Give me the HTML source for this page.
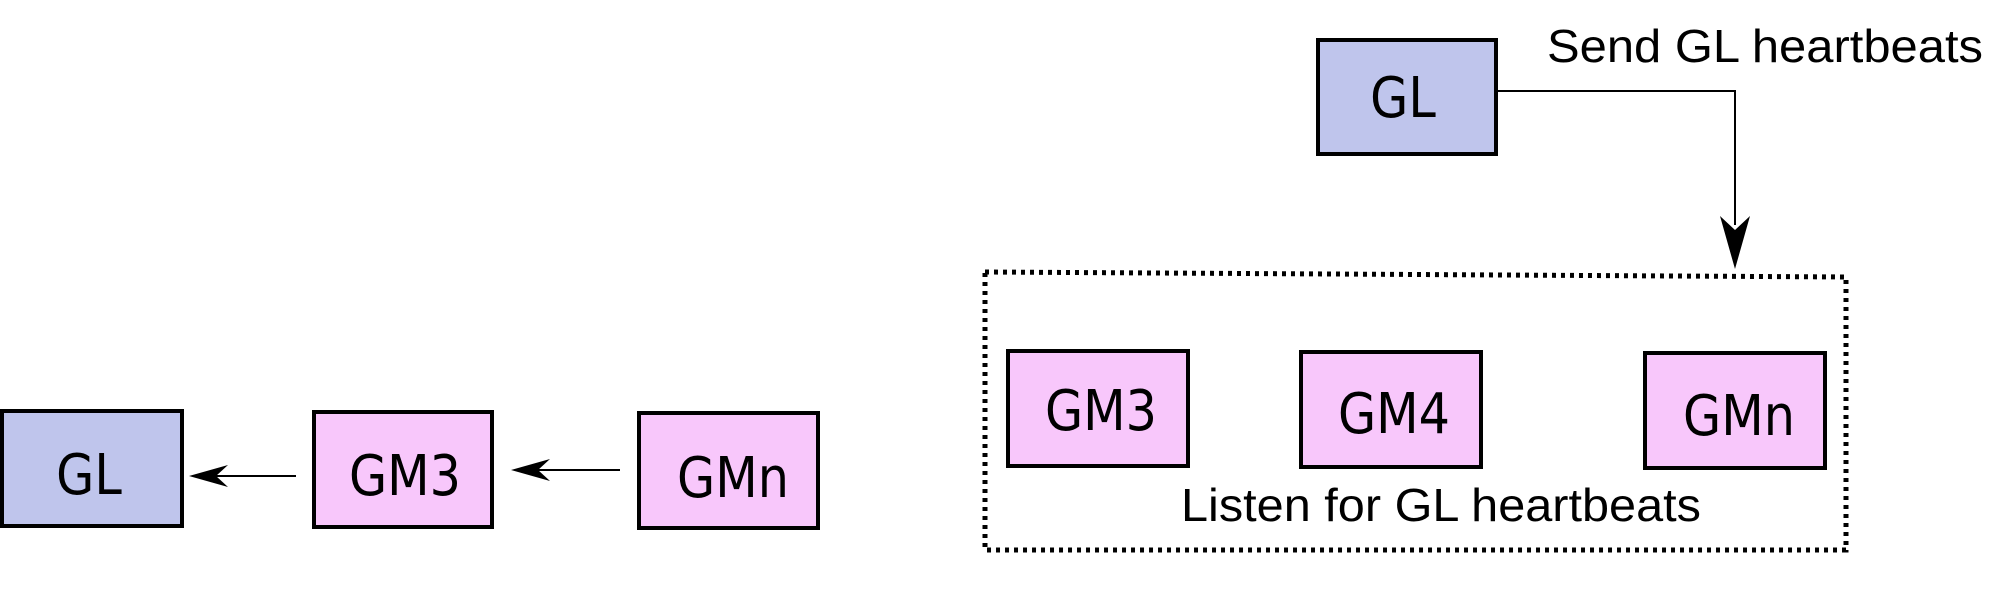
<!DOCTYPE html>
<html><head><meta charset="utf-8"><style>
html,body{margin:0;padding:0;background:#fff;}
svg{display:block;}
</style></head><body>
<svg width="2000" height="597" viewBox="0 0 2000 597" xmlns="http://www.w3.org/2000/svg">
<g stroke="#000" stroke-width="4">
<rect x="2" y="411" width="180" height="115" fill="#bfc5ec"/>
<rect x="314" y="412" width="178" height="115" fill="#f8c7fb"/>
<rect x="639" y="413" width="179" height="115" fill="#f8c7fb"/>
<rect x="1318" y="40" width="178" height="114" fill="#bfc5ec"/>
<rect x="1008" y="351" width="180" height="115" fill="#f8c7fb"/>
<rect x="1301" y="352" width="180" height="115" fill="#f8c7fb"/>
<rect x="1645" y="353" width="180" height="115" fill="#f8c7fb"/>
</g>
<g stroke="#000" stroke-width="2" fill="none">
<line x1="296" y1="476" x2="205" y2="476"/>
<line x1="620" y1="470" x2="527" y2="470"/>
<polyline points="1496,91 1735,91 1735,225"/>
</g>
<polygon points="189,476 228,465 216,476 228,487" fill="#000"/>
<polygon points="511,470 550,459 538,470 550,481" fill="#000"/>
<polygon points="1735,269 1720,216 1735,230 1750,216" fill="#000"/>
<polygon points="985,272 1846,277 1846,550 985,550" fill="none" stroke="#000" stroke-width="5" stroke-dasharray="4 5"/>
<g font-family="DejaVu Sans, sans-serif" font-size="56" fill="#000" text-anchor="middle">
<text transform="translate(89,494) scale(0.88,1)">GL</text>
<text transform="translate(405,495) scale(0.88,1)">GM3</text>
<text transform="translate(733,497) scale(0.88,1)">GMn</text>
<text transform="translate(1403,117) scale(0.88,1)">GL</text>
<text transform="translate(1101,430) scale(0.88,1)">GM3</text>
<text transform="translate(1394,433) scale(0.88,1)">GM4</text>
<text transform="translate(1739,435) scale(0.88,1)">GMn</text>
</g>
<g font-family="Liberation Sans, Arial, sans-serif" font-size="46" fill="#000">
<text x="1547" y="62" textLength="436" lengthAdjust="spacingAndGlyphs">Send GL heartbeats</text>
<text x="1181" y="521" textLength="520" lengthAdjust="spacingAndGlyphs">Listen for GL heartbeats</text>
</g>
</svg>
</body></html>
